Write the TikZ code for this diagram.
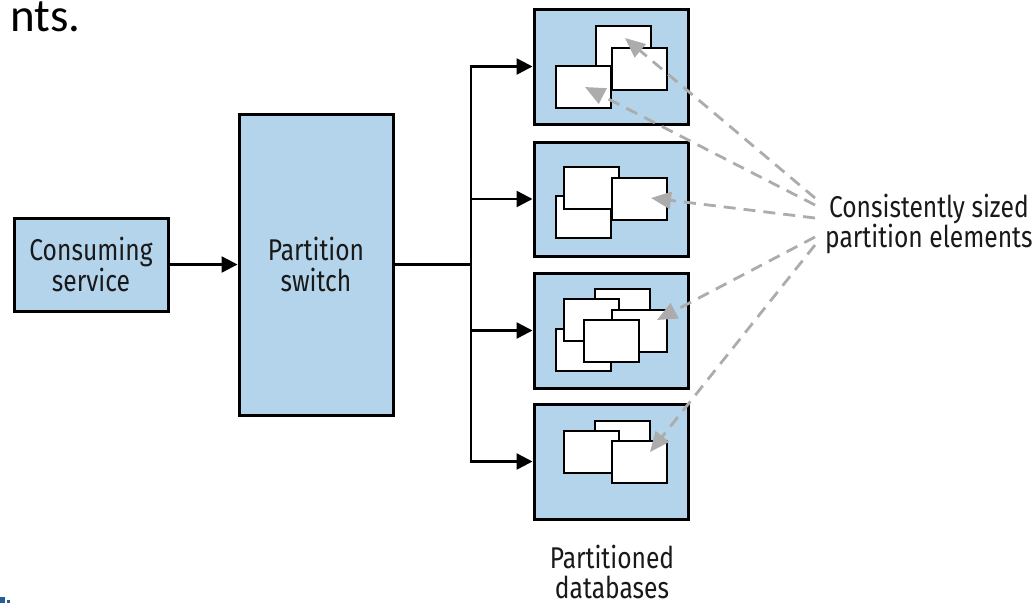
\documentclass[tikz,border=0pt]{standalone}
\usepackage{fontspec}
\setmainfont{Fira Sans}[FakeStretch=0.82]
\newfontfamily\calib{Carlito}
\usetikzlibrary{arrows.meta}
\definecolor{boxblue}{RGB}{180,212,236}
\definecolor{dashgray}{RGB}{172,172,172}
\definecolor{markblue}{RGB}{40,90,150}
\definecolor{txt}{RGB}{25,25,25}
\begin{document}
\begin{tikzpicture}[x=1pt,y=-1pt,
  bluebox/.style={draw=black,fill=boxblue,line width=3pt,inner sep=0pt,align=center,
    font=\fontsize{30}{31}\selectfont,text=txt},
  elem/.style={draw=black,fill=white,line width=2.6pt},
  arr/.style={draw=black,line width=2.5pt,-{Triangle[length=16pt,width=16pt]}},
  link/.style={draw=black,line width=2.5pt},
  garr/.style={draw=dashgray,line width=2.8pt,dash pattern=on 12pt off 8pt,
    -{Triangle[length=20pt,width=17pt]}},
  lbl/.style={font=\fontsize{30}{30}\selectfont,text=txt,align=center,inner sep=0pt}]
\useasboundingbox (0,0) rectangle (1033,603);
% stray text at top-left
\node[anchor=base east,inner sep=0pt,font=\calib\fontsize{47}{50}\selectfont] (frag) at (81,31) {nts.};
\fill[markblue] (0,597) rectangle (5,603);
\fill[markblue] (7,600) rectangle (10,603);
% main boxes
\node[bluebox,minimum width=154pt,minimum height=93pt] (cons) at (91,264.5) {Consuming\\service};
\node[bluebox,minimum width=154pt,minimum height=301pt] (sw) at (316,264.5) {Partition\\switch};
\node[bluebox,minimum width=154pt,minimum height=115pt] (db1) at (611,66.5) {};
\node[bluebox,minimum width=154pt,minimum height=114pt] (db2) at (611,199) {};
\node[bluebox,minimum width=154pt,minimum height=115pt] (db3) at (611,330.5) {};
\node[bluebox,minimum width=154pt,minimum height=115pt] (db4) at (611,461.5) {};
% connectors
\coordinate (j) at (471,264.5);
\draw[arr] (cons.east) -- (sw.west);
\draw[link] (sw.east) -- (j);
\draw[arr] (j) |- (db1.west);
\draw[arr] (j) |- (db2.west);
\draw[arr] (j) |- (db3.west);
\draw[arr] (j) |- (db4.west);
% partition elements
% db1
\draw[elem] (596,26) rectangle ++(55,42);
\draw[elem] (612,48) rectangle ++(55,42);
\draw[elem] (556,66) rectangle ++(55,42);
% db2
\draw[elem] (556,196) rectangle ++(55,42);
\draw[elem] (564,167) rectangle ++(55,42);
\draw[elem] (612,178) rectangle ++(55,42);
% db3
\draw[elem] (595,289) rectangle ++(55,42);
\draw[elem] (556,329) rectangle ++(55,42);
\draw[elem] (564,299) rectangle ++(55,42);
\draw[elem] (612,310) rectangle ++(55,42);
\draw[elem] (584,320) rectangle ++(55,42);
% db4
\draw[elem] (595,421) rectangle ++(55,42);
\draw[elem] (564,431) rectangle ++(55,42);
\draw[elem] (612,441) rectangle ++(55,42);
% labels
\node[lbl,anchor=base west] (cse) at (825,247) {Consistently sized\\partition elements};
\node[lbl,anchor=base] (pdb) at (612,598) {Partitioned\\databases};
% gray dashed arrows
\coordinate (s1) at (815,198);
\coordinate (s2) at (815,205);
\coordinate (s3) at (815,218);
\coordinate (s4) at (815,237);
\coordinate (s5) at (815,245);
\coordinate (t1) at (625,38);
\coordinate (t2) at (585,87);
\coordinate (t3) at (651,198);
\coordinate (t4) at (657,320);
\coordinate (t5) at (650,452);
\draw[garr] (s1) -- (t1);
\draw[garr] (s2) -- (t2);
\draw[garr] (s3) -- (t3);
\draw[garr] (s4) -- (t4);
\draw[garr] (s5) -- (t5);
\end{tikzpicture}
\end{document}
